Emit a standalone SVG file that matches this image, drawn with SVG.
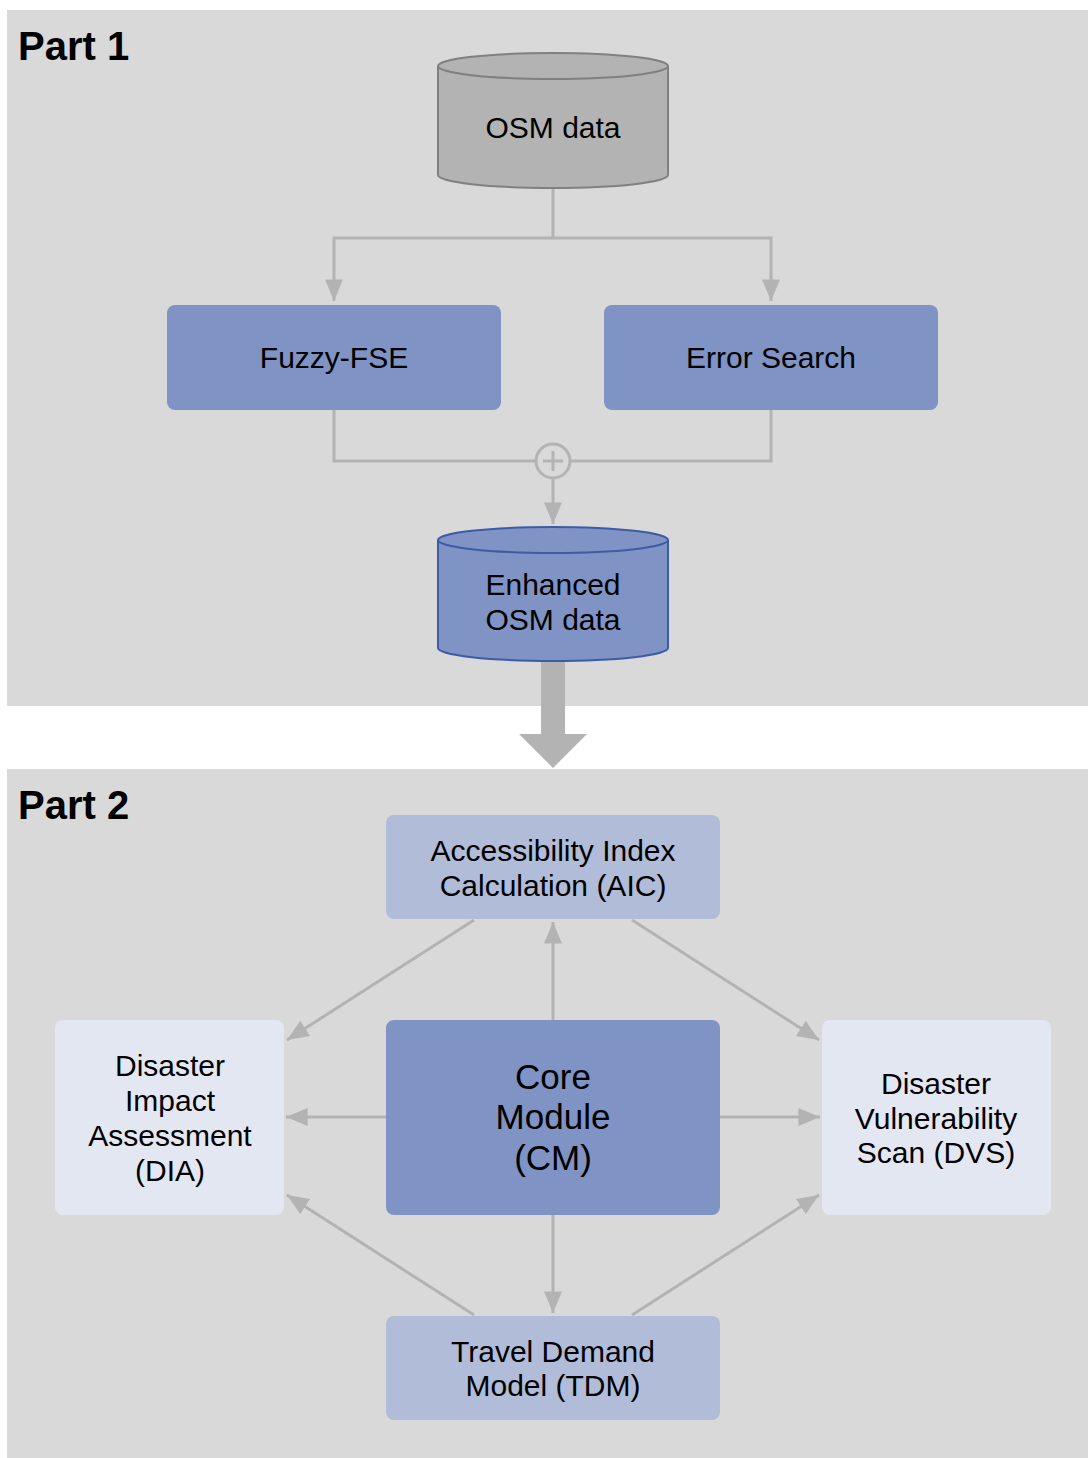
<svg xmlns="http://www.w3.org/2000/svg" width="1088" height="1458" viewBox="0 0 1088 1458">
  <style>
    .panel { fill: #d9d9d9; }
    .title { font-family: "Liberation Sans", Arial, sans-serif; font-weight: bold; font-size: 40px; fill: #000; }
    .lbl { font-family: "Liberation Sans", Arial, sans-serif; font-size: 30px; fill: #000; text-anchor: middle; }
    .big { font-size: 35px; }
    .wire { fill: none; stroke: #b3b3b3; stroke-width: 3; }
    .box-mid { fill: #7f93c4; }
    .box-soft { fill: #b0bcd8; }
    .box-pale { fill: #e3e7f2; }
  </style>
  <defs>
    <marker id="tip" viewBox="0 0 12 10" refX="12" refY="5" markerWidth="7.2" markerHeight="6" markerUnits="strokeWidth" orient="auto">
      <path d="M0,0 L12,5 L0,10 Z" fill="#b3b3b3"/>
    </marker>
  </defs>

  <rect width="1088" height="1458" fill="#ffffff"/>
  <rect class="panel" x="7" y="10" width="1081" height="696"/>
  <rect class="panel" x="7" y="769" width="1081" height="689"/>
  <text class="title" x="18" y="60">Part 1</text>
  <text class="title" x="18" y="819">Part 2</text>

  <g id="connectors">
    <!-- split from OSM data -->
    <path class="wire" d="M553,188 V238 H334 V301" marker-end="url(#tip)"/>
    <path class="wire" d="M553,238 H771 V301" marker-end="url(#tip)"/>
    <!-- merge into enhanced data -->
    <path class="wire" d="M334,410 V461 H536"/>
    <path class="wire" d="M771,410 V461 H570"/>
    <circle cx="553" cy="461" r="17" fill="none" stroke="#b3b3b3" stroke-width="3"/>
    <path d="M553,451 V471 M543,461 H563" stroke="#b3b3b3" stroke-width="3"/>
    <path class="wire" d="M553,478 V524" marker-end="url(#tip)"/>
    <!-- part 1 to part 2 -->
    <path d="M541,662 H565 V734 H587 L553,768 L519,734 H541 Z" fill="#b3b3b3"/>
    <!-- part 2 links -->
    <path class="wire" d="M474,920 L287,1040" marker-end="url(#tip)"/>
    <path class="wire" d="M632,920 L819,1040" marker-end="url(#tip)"/>
    <path class="wire" d="M553,1020 V922" marker-end="url(#tip)"/>
    <path class="wire" d="M386,1117 H286" marker-end="url(#tip)"/>
    <path class="wire" d="M720,1117 H820" marker-end="url(#tip)"/>
    <path class="wire" d="M553,1215 V1313" marker-end="url(#tip)"/>
    <path class="wire" d="M474,1315 L287,1195" marker-end="url(#tip)"/>
    <path class="wire" d="M632,1315 L819,1195" marker-end="url(#tip)"/>
  </g>

  <g id="osm-data">
    <path d="M438,66 V175 A115,13 0 0 0 668,175 V66" fill="#b3b3b3" stroke="#808080" stroke-width="2"/>
    <ellipse cx="553" cy="66" rx="115" ry="13" fill="#b3b3b3" stroke="#808080" stroke-width="2"/>
    <text class="lbl" x="553" y="138">OSM data</text>
  </g>

  <g id="fuzzy-fse">
    <rect class="box-mid" x="167" y="305" width="334" height="105" rx="8"/>
    <text class="lbl" x="334" y="368">Fuzzy-FSE</text>
  </g>

  <g id="error-search">
    <rect class="box-mid" x="604" y="305" width="334" height="105" rx="8"/>
    <text class="lbl" x="771" y="368">Error Search</text>
  </g>

  <g id="enhanced-osm-data">
    <path d="M438,540 V648 A115,13 0 0 0 668,648 V540" fill="#7f93c4" stroke="#3d5ba6" stroke-width="2"/>
    <ellipse cx="553" cy="540" rx="115" ry="13" fill="#7f93c4" stroke="#3d5ba6" stroke-width="2"/>
    <text class="lbl" x="553" y="595">Enhanced</text>
    <text class="lbl" x="553" y="630">OSM data</text>
  </g>

  <g id="aic">
    <rect class="box-soft" x="386" y="815" width="334" height="104" rx="8"/>
    <text class="lbl" x="553" y="861">Accessibility Index</text>
    <text class="lbl" x="553" y="896">Calculation (AIC)</text>
  </g>

  <g id="core-module">
    <rect class="box-mid" x="386" y="1020" width="334" height="195" rx="8"/>
    <text class="lbl big" x="553" y="1089">Core</text>
    <text class="lbl big" x="553" y="1129">Module</text>
    <text class="lbl big" x="553" y="1170">(CM)</text>
  </g>

  <g id="dia">
    <rect class="box-pale" x="55" y="1020" width="229" height="195" rx="8"/>
    <text class="lbl" x="170" y="1076">Disaster</text>
    <text class="lbl" x="170" y="1111">Impact</text>
    <text class="lbl" x="170" y="1146">Assessment</text>
    <text class="lbl" x="170" y="1181">(DIA)</text>
  </g>

  <g id="dvs">
    <rect class="box-pale" x="822" y="1020" width="229" height="195" rx="8"/>
    <text class="lbl" x="936" y="1094">Disaster</text>
    <text class="lbl" x="936" y="1129">Vulnerability</text>
    <text class="lbl" x="936" y="1163">Scan (DVS)</text>
  </g>

  <g id="tdm">
    <rect class="box-soft" x="386" y="1316" width="334" height="104" rx="8"/>
    <text class="lbl" x="553" y="1362">Travel Demand</text>
    <text class="lbl" x="553" y="1396">Model (TDM)</text>
  </g>
</svg>
